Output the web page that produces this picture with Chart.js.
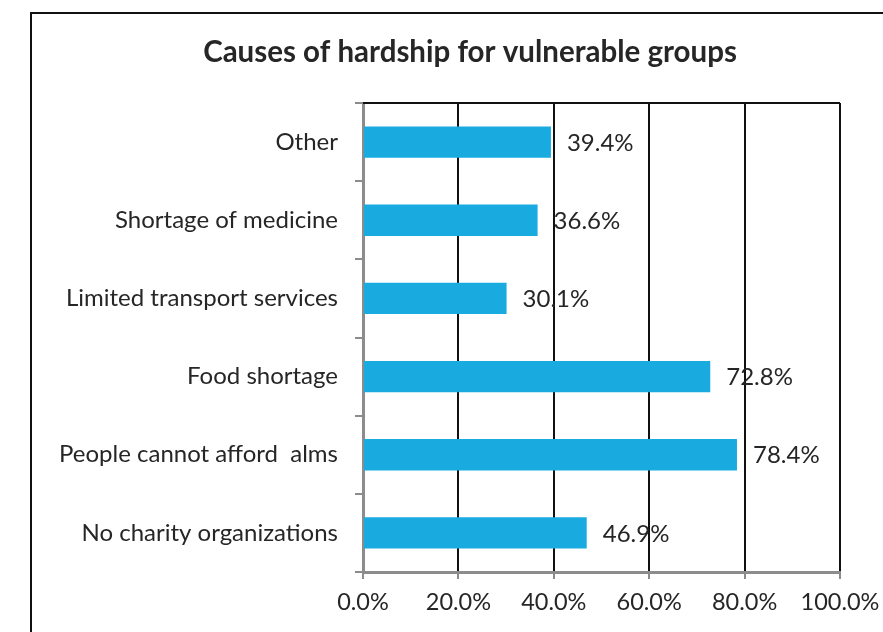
<!DOCTYPE html>
<html>
<head>
<meta charset="utf-8">
<script src="https://cdn.jsdelivr.net/npm/chart.js@4"></script>
<style>
  html, body { margin: 0; padding: 0; background: #fff; }
  #wrap { position: relative; width: 883px; height: 632px; }
</style>
</head>
<body>
<div id="wrap"><canvas id="charts" width="883" height="632"></canvas></div>
<script>
const titleText = 'Causes of hardship for vulnerable groups';
const causes = [
  'Other',
  'Shortage of medicine',
  'Limited transport services',
  'Food shortage',
  'People cannot afford  alms',
  'No charity organizations',
];
const shares = [39.4, 36.6, 30.1, 72.8, 78.4, 46.9];
const xTicks = [0, 20, 40, 60, 80, 100];

const FONT = 'Lato, "Open Sans", sans-serif';
const TEXT = '#262626';

// frame around the whole chart, title and plot border
const framePlugin = {
  id: 'frame',
  beforeDraw(chart) {
    const ctx = chart.ctx;
    ctx.save();
    ctx.fillStyle = '#fff';
    ctx.fillRect(0, 0, chart.width, chart.height);
    ctx.strokeStyle = '#111';
    ctx.lineWidth = 2;
    ctx.beginPath();
    ctx.moveTo(31, chart.height + 2);
    ctx.lineTo(31, 13);
    ctx.lineTo(chart.width + 2, 13);
    ctx.stroke();
    ctx.restore();
  },
  afterDraw(chart) {
    const ctx = chart.ctx;
    const a = chart.chartArea;
    ctx.save();
    ctx.strokeStyle = '#111';
    ctx.lineWidth = 2;
    ctx.beginPath();
    ctx.moveTo(a.left, a.top);
    ctx.lineTo(a.right, a.top);
    ctx.stroke();
    ctx.fillStyle = TEXT;
    ctx.font = 'bold 29.5px ' + FONT;
    ctx.textAlign = 'center';
    ctx.textBaseline = 'middle';
    ctx.fillText(titleText, 470, 52);
    ctx.restore();
  },
};

// value labels just past the end of each bar
const valueLabels = {
  id: 'valueLabels',
  afterDatasetsDraw(chart) {
    const ctx = chart.ctx;
    const meta = chart.getDatasetMeta(0);
    ctx.save();
    ctx.fillStyle = TEXT;
    ctx.font = '24px ' + FONT;
    ctx.textAlign = 'left';
    ctx.textBaseline = 'middle';
    meta.data.forEach((bar, i) => {
      ctx.fillText(shares[i].toFixed(1) + '%', bar.x + 16, bar.y + 1);
    });
    ctx.restore();
  },
};

let ctx = document.getElementById('charts').getContext('2d');
new Chart(ctx, {
  type: 'bar',
  data: {
    labels: causes,
    datasets: [
      {
        data: shares,
        backgroundColor: '#19abe0',
        borderWidth: 0,
        barPercentage: 0.4,
        categoryPercentage: 1,
      },
    ],
  },
  options: {
    indexAxis: 'y',
    responsive: false,
    animation: false,
    layout: {
      padding: { top: 103, right: 43, bottom: 0, left: 0 },
    },
    plugins: {
      legend: { display: false },
      title: { display: false },
      tooltip: { enabled: false },
    },
    scales: {
      x: {
        min: 0,
        max: 100,
        afterBuildTicks: (scale) => {
          scale.ticks = xTicks.map((v) => ({ value: v }));
        },
        afterFit: (scale) => {
          scale.height = 60;
          scale.paddingRight = 0;
        },
        grid: {
          color: '#111',
          lineWidth: 2,
          tickColor: '#8c8c8c',
          tickLength: 7,
        },
        border: { color: '#8c8c8c', width: 3 },
        ticks: {
          padding: 9,
          color: TEXT,
          font: { family: FONT, size: 23.5 },
          callback: (v) => v.toFixed(1) + '%',
        },
      },
      y: {
        afterFit: (scale) => {
          scale.width = 363;
        },
        grid: {
          offset: true,
          drawOnChartArea: false,
          tickColor: '#8c8c8c',
          tickLength: 8,
          lineWidth: 2,
        },
        border: { color: '#8c8c8c', width: 3 },
        ticks: {
          padding: 17,
          color: TEXT,
          font: { family: FONT, size: 24 },
        },
      },
    },
  },
  plugins: [framePlugin, valueLabels],
});
</script>
</body>
</html>
